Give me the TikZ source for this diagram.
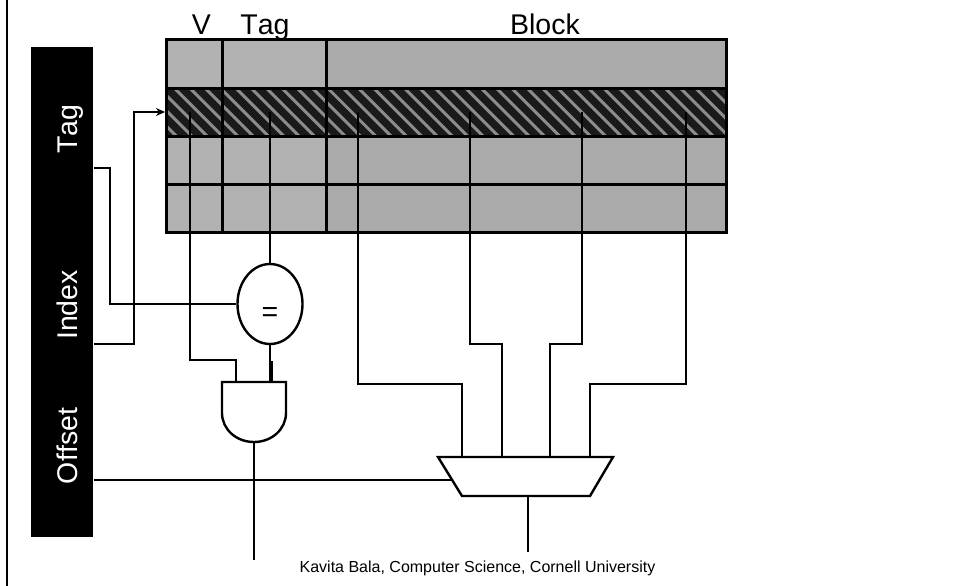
\documentclass[tikz,border=0pt]{standalone}
\usepackage{fontspec}
\setmainfont[Kerning=Off]{Liberation Sans}
\usetikzlibrary{arrows.meta, shapes.geometric}

\tikzset{
    wire/.style={line width=2.4pt, line join=miter},
    grid line/.style={line width=3pt, line cap=rect},
    head label/.style={font=\fontsize{28.5}{30}\selectfont, inner sep=0pt, anchor=base},
    bar label/.style={font=\fontsize{28.5}{30}\selectfont, text=white, rotate=90, inner sep=0pt, anchor=base},
    gate line/.style={line width=2.4pt, fill=white},
}
\definecolor{lightcell}{HTML}{B2B2B2}
\definecolor{blockcell}{HTML}{AAAAAA}
\definecolor{hatchdark}{HTML}{1A1A1A}
\definecolor{hatchlight}{HTML}{8C8C8C}

\begin{document}
\begin{tikzpicture}[x=1pt, y=-1pt, >={Stealth[length=9pt, width=8pt]}]
    \useasboundingbox (0,0) rectangle (953,586);

    % Left frame line
    \coordinate (frametop) at (7,0);
    \coordinate (framebot) at (7,586);
    \draw[line width=2.4pt] (frametop) -- (framebot);

    % Address bar
    \node[fill=black, minimum width=62.5pt, minimum height=490pt, inner sep=0pt] (addr) at (62.2,292) {};
    \node[bar label] (tagtext) at (77.5,129) {Tag};
    \node[bar label] (indextext) at (77.5,305) {Index};
    \node[bar label] (offsettext) at (77.5,446) {Offset};

    % Cache rows
    \fill[lightcell] (166,40) rectangle (326,232);
    \fill[blockcell] (326,40) rectangle (726,232);
    \fill[hatchdark] (166,88) rectangle (726,136);
    \begin{scope}
        \clip (166,88) rectangle (726,136);
        \foreach \x in {113,128.33,...,730}
            \draw[line width=3pt, hatchlight] (\x,88) -- ++(48,48);
    \end{scope}
    \foreach \y in {40,88,136,184,232}
        \draw[grid line] (166,\y) -- (726,\y);
    \foreach \x in {166,222,326,726}
        \draw[grid line] (\x,40) -- (\x,232);

    % Column headings
    \node[head label] (vhead) at (201.5,35) {V};
    \node[head label] (taghead) at (265,35) {Tag};
    \node[head label] (blockhead) at (545,35) {Block};

    % Comparator and AND gate
    \node[draw, ellipse, gate line, minimum width=65pt, minimum height=80pt, inner sep=0pt] (cmp) at (270,304) {};
    \node[font=\fontsize{28.5}{30}\selectfont, inner sep=0pt] (cmptext) at (270,314.5) {=};
    \coordinate (andl) at (236,382);
    \coordinate (andr) at (270,382);
    \coordinate (andout) at (254,442);
    \draw[gate line] (222,382) -- (286,382) -- (286,413) .. controls (286,429) and (272,442) .. (andout) .. controls (236,442) and (222,429) .. (222,413) -- cycle;

    % Mux
    \coordinate (muxa) at (462,457);
    \coordinate (muxb) at (502,457);
    \coordinate (muxc) at (550,457);
    \coordinate (muxd) at (590,457);
    \coordinate (muxsel) at (452,480);
    \coordinate (muxout) at (528,496);
    \draw[gate line] (438,457) -- (613,457) -- (590,496) -- (462,496) -- cycle;

    % Taps in the selected row
    \coordinate (vtap) at (190,112);
    \coordinate (tagtap) at (270,112);
    \coordinate (wa) at (358,112);
    \coordinate (wb) at (470,112);
    \coordinate (wc) at (582,112);
    \coordinate (wd) at (686,112);

    % Address wires
    \coordinate (tagout) at (93.5,168);
    \coordinate (indexout) at (93.5,344);
    \coordinate (offsetout) at (93.5,480);
    \coordinate (rowin) at (165,112);
    \draw[wire] (tagout) -- (110,168) |- (cmp.west);
    \draw[wire, ->] (indexout) -- (134,344) |- (rowin);
    \draw[wire] (offsetout) -- (muxsel);

    % Valid and tag wires
    \draw[wire] (vtap) -- (vtap |- 0,360) -| (andl);
    \draw[wire] (tagtap) -- (cmp.north);
    \draw[wire] (cmp.south) -- (andr);
    \draw[line width=3.2pt] (271,361) -- (271,383);

    % Block wires
    \draw[wire] (wa) -- (wa |- 0,384) -| (muxa);
    \draw[wire] (wb) -- (wb |- 0,344) -| (muxb);
    \draw[wire] (wc) -- (wc |- 0,344) -| (muxc);
    \draw[wire] (wd) -- (wd |- 0,384) -| (muxd);

    % Outputs
    \coordinate (hitend) at (254,560);
    \coordinate (dataend) at (528,552);
    \draw[wire] (andout) -- (hitend);
    \draw[wire] (muxout) -- (dataend);

    % Footer
    \node[font=\fontsize{16}{18}\selectfont, inner sep=0pt, anchor=base] (footer) at (477.5,572.5) {Kavita Bala, Computer Science, Cornell University};
\end{tikzpicture}
\end{document}
